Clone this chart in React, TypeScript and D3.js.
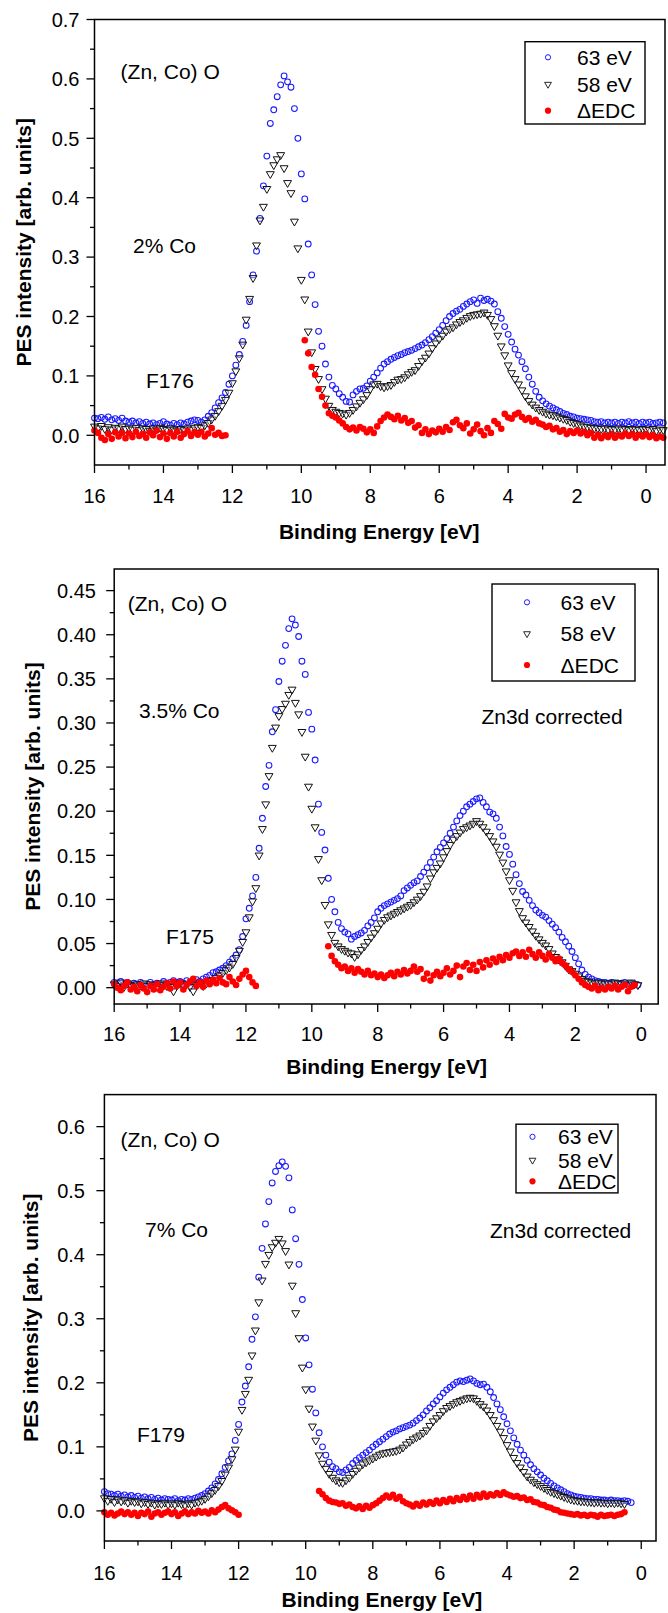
import React from "react";
import * as d3 from "d3";

// ---------------- DATA ----------------
// Energies are on a 0.1 eV grid; each series lists its first energy and values.
const STEP = 0.1;

// Panel 1 : 2% Co, F176
const P1_63_START = 16.0;
const P1_63 = [
  .029, .028, .030, .027, .031, .026, .028, .025, .029, .024,
  .022, .024, .021, .023, .020, .022, .019, .021, .018, .020,
  .023, .019, .017, .020, .018, .021, .019, .022, .024, .026,
  .025, .022, .026, .032, .038, .046, .055, .063, .072, .086,
  .100, .118, .136, .158, .185, .225, .270, .310, .365, .420,
  .470, .525, .548, .570, .590, .605, .595, .586, .550, .500,
  .440, .398, .322, .270, .220, .175, .150, .120, .098, .084,
  .078, .070, .064, .057, .056, .068, .074, .078, .079, .083,
  .091, .098, .105, .113, .120, .124, .128, .131, .134, .136,
  .139, .141, .143, .146, .149, .152, .156, .161, .166, .172,
  .178, .185, .193, .200, .205, .209, .212, .217, .221, .225,
  .228, .222, .231, .227, .229, .226, .221, .208, .197, .183,
  .170, .157, .145, .135, .124, .112, .098, .086, .074, .064,
  .058, .053, .049, .046, .043, .040, .037, .035, .032, .031,
  .029, .028, .027, .026, .025, .023, .022, .023, .021, .022,
  .021, .022, .020, .022, .021, .023, .021, .022, .020, .022,
  .021, .022, .020, .021, .022, .021,
];
const P1_58_START = 16.0;
const P1_58 = [
  .015, .012, .016, .011, .014, .010, .013, .012, .015, .011,
  .012, .010, .013, .009, .012, .011, .008, .012, .010, .013,
  .011, .009, .012, .010, .008, .011, .009, .012, .010, .013,
  .014, .013, .017, .021, .027, .033, .041, .050, .060, .072,
  .088, .108, .130, .153, .195, .230, .265, .320, .362, .385,
  .415, .440, .455, .465, .472, .450, .425, .408, .360, .315,
  .262, .229, .175, .140, .112, .095, .078, .062, .050, .043,
  .040, .038, .037, .035, .038, .043, .049, .055, .061, .068,
  .078, .086, .087, .083, .081, .083, .085, .090, .094, .095,
  .098, .103, .107, .110, .117, .125, .131, .138, .147, .155,
  .162, .168, .175, .179, .182, .187, .191, .194, .198, .201,
  .203, .204, .205, .207, .203, .196, .184, .168, .150, .135,
  .118, .105, .095, .086, .076, .066, .058, .052, .047, .043,
  .040, .037, .035, .034, .032, .030, .028, .026, .023, .021,
  .019, .017, .015, .014, .013, .012, .012, .011, .012, .010,
  .011, .010, .012, .010, .011, .009, .011, .010, .009, .011,
  .010, .009, .011, .008, .010, .009,
];
const P1_DA_START = 16.0;
const P1_DA = [
  .008, .004, -.004, -.008, .002, -.006, .005, -.002, .004, -.005,
  .003, -.003, .006, -.001, .002, -.004, .005, .000, .008, -.003,
  .003, -.006, .004, -.002, .006, -.004, .002, .007, -.001, .005,
  .001, .006, -.002, .003, .012, .001, .004, -.001, .000,
];
const P1_DB_START = 9.9;
const P1_DB = [
  .160, .138, .115, .102, .078, .065, .050, .037, .033, .030,
  .025, .020, .014, .010, .013, .008, .014, .011, .005, .010,
  .004, .015, .024, .030, .035, .031, .027, .033, .025, .029,
  .021, .024, .013, .017, .004, .010, .002, .008, .005, .011,
  .006, .014, .009, .022, .026, .017, .012, .020, .003, .010,
  .018, .007, .000, .012, .004, .024, .019, .011, .036, .030,
  .028, .035, .038, .031, .026, .029, .023, .026, .020, .018,
  .014, .016, .010, .012, .006, .009, .002, .007, .004, .008,
  .003, .006, .000, .004, -.004, .001, -.005, .000, -.003, .002,
  -.004, .000, -.002, .003, -.001, .002, -.004, .001, -.002, .002,
  -.003, .000, -.005, -.002, -.004,
];

// Panel 2 : 3.5% Co, F175
const P2_63_START = 16.0;
const P2_63 = [
  .006, .005, .007, .004, .006, .003, .005, .004, .006, .003,
  .004, .006, .003, .005, .004, .007, .005, .006, .008, .006,
  .007, .005, .008, .006, .005, .009, .007, .010, .012, .014,
  .017, .018, .020, .022, .025, .029, .033, .037, .043, .058,
  .078, .090, .104, .125, .158, .192, .228, .252, .290, .315,
  .347, .370, .388, .407, .418, .411, .398, .370, .355, .312,
  .293, .258, .208, .176, .156, .124, .100, .086, .074, .067,
  .063, .061, .055, .058, .060, .062, .065, .070, .074, .079,
  .086, .090, .093, .095, .097, .099, .101, .104, .110, .113,
  .116, .119, .121, .126, .131, .136, .142, .148, .154, .159,
  .164, .169, .175, .182, .189, .195, .200, .205, .208, .211,
  .214, .215, .210, .205, .199, .197, .192, .182, .172, .160,
  .151, .140, .128, .118, .109, .105, .099, .093, .088, .085,
  .082, .080, .076, .072, .068, .063, .057, .052, .047, .041,
  .034, .027, .020, .015, .012, .010, .008, .007, .006, .006,
  .005, .006, .005, .004, .005, .006, .004, .005, .004, .003,
];
const P2_58_START = 16.0;
const P2_58 = [
  .004, .002, .006, .001, .005, .003, .002, .004, .003, .005,
  .002, .004, .003, .001, .005, .003, .002, .001, -.004, .003,
  .005, .002, .004, .001, -.004, .003, .006, .002, .005, .008,
  .009, .011, .014, .017, .020, .023, .027, .034, .042, .052,
  .063, .080, .098, .113, .150, .180, .208, .240, .272, .295,
  .308, .316, .322, .332, .338, .323, .310, .290, .262, .228,
  .203, .182, .146, .122, .094, .072, .060, .051, .047, .044,
  .042, .040, .039, .035, .038, .043, .047, .052, .057, .062,
  .067, .073, .077, .080, .082, .084, .086, .088, .090, .092,
  .094, .097, .100, .104, .109, .115, .124, .131, .136, .141,
  .148, .155, .162, .168, .172, .176, .180, .182, .184, .186,
  .189, .186, .182, .177, .172, .166, .160, .151, .142, .132,
  .122, .110, .097, .087, .079, .074, .069, .064, .059, .055,
  .051, .048, .044, .039, .035, .032, .029, .025, .021, .019,
  .016, .013, .010, .008, .007, .006, .005, .006, .005, .004,
  .005, .004, .006, .005, .004, .005, .003, .006, .004, .003,
];
const P2_DA_START = 16.0;
const P2_DA = [
  .004, .000, -.003, .002, .006, -.002, .001, -.004, .003, -.001,
  -.005, .002, -.002, .004, -.003, .001, .005, -.001, .007, .002,
  .006, -.002, .003, .007, .010, .002, .006, .001, .008, .004,
  .009, .005, .011, .006, .004, .012, .007, .003, .010, .015,
  .019, .012, .006, .002,
];
const P2_DB_START = 9.5;
const P2_DB = [
  .047, .036, .030, .026, .022, .024, .019, .022, .017, .021,
  .018, .015, .019, .014, .016, .012, .015, .011, .014, .017,
  .013, .018, .015, .020, .016, .019, .024, .018, .021, .010,
  .016, .008, .014, .018, .013, .017, .022, .015, .019, .025,
  .012, .024, .028, .020, .026, .019, .029, .023, .031, .026,
  .033, .029, .035, .031, .037, .034, .039, .041, .036, .040,
  .035, .043, .038, .034, .040, .036, .032, .038, .034, .030,
  .033, .028, .025, .021, .018, .014, .010, .006, .003, .001,
  -.001, .002, -.003, .000, -.002, .001, -.001, .002, -.002, .001,
  .003, -.004, .001, .003,
];

// Panel 3 : 7% Co, F179
const P3_63_START = 16.0;
const P3_63 = [
  .030, .027, .026, .024, .026, .023, .025, .022, .024, .021,
  .023, .020, .022, .019, .021, .018, .020, .017, .019, .018,
  .017, .019, .016, .018, .017, .019, .018, .020, .022, .024,
  .027, .031, .036, .042, .049, .058, .068, .078, .089, .110,
  .135, .170, .195, .225, .268, .303, .365, .410, .448, .483,
  .512, .530, .539, .545, .538, .520, .470, .425, .385, .330,
  .270, .228, .190, .153, .122, .100, .087, .076, .069, .066,
  .061, .060, .064, .068, .074, .079, .083, .087, .091, .095,
  .100, .104, .108, .112, .116, .120, .123, .125, .128, .130,
  .132, .134, .137, .141, .145, .150, .156, .161, .167, .172,
  .178, .184, .189, .193, .197, .201, .203, .202, .204, .206,
  .203, .199, .197, .198, .193, .186, .177, .167, .158, .147,
  .136, .125, .114, .104, .095, .087, .079, .072, .066, .061,
  .056, .051, .047, .043, .039, .036, .033, .030, .027, .025,
  .023, .022, .021, .020, .019, .019, .018, .018, .017, .017,
  .016, .017, .016, .016, .015, .016, .015, .013,
];
const P3_58_START = 16.0;
const P3_58 = [
  .020, .016, .019, .014, .018, .015, .017, .013, .016, .014,
  .015, .012, .014, .011, .013, .010, .012, .011, .013, .010,
  .012, .010, .013, .011, .009, .012, .010, .013, .014, .016,
  .019, .023, .028, .033, .039, .047, .057, .068, .081, .096,
  .124, .158, .183, .205, .243, .282, .326, .360, .386, .400,
  .412, .419, .425, .418, .406, .385, .352, .309, .270, .224,
  .190, .160, .132, .110, .087, .074, .066, .058, .052, .048,
  .045, .044, .048, .052, .058, .063, .068, .073, .076, .079,
  .082, .085, .088, .090, .091, .092, .093, .094, .096, .099,
  .104, .108, .112, .115, .118, .122, .126, .133, .140, .145,
  .150, .156, .161, .164, .167, .170, .172, .174, .176, .177,
  .176, .172, .167, .163, .157, .150, .142, .133, .124, .114,
  .103, .093, .083, .075, .068, .061, .054, .049, .045, .042,
  .039, .036, .033, .030, .028, .026, .024, .022, .020, .018,
  .017, .016, .015, .015, .014, .014, .013, .014, .013, .013,
  .012, .013, .012, .013, .012, .011,
];
const P3_DA_START = 16.0;
const P3_DA = [
  -.002, -.006, -.003, -.007, -.004, -.001, -.005, -.002, -.006, -.003,
  -.008, -.003, -.005, -.001, -.009, -.004, -.002, -.006, -.003, -.001,
  -.005, -.002, -.008, -.004, -.001, -.005, -.002, -.004, .000, -.003,
  -.001, -.004, .001, -.002, .002, .006, .009, .004, .001, -.002,
  -.006,
];
const P3_DB_START = 9.6;
const P3_DB = [
  .031, .026, .020, .016, .014, .013, .011, .012, .008, .010,
  .006, .004, .007, .003, .008, .005, .009, .012, .016, .020,
  .024, .021, .025, .019, .022, .015, .012, .010, .007, .011,
  .008, .013, .010, .014, .011, .016, .012, .017, .014, .019,
  .015, .020, .017, .022, .018, .024, .019, .025, .021, .027,
  .022, .026, .024, .028, .025, .029, .026, .024, .022, .023,
  .020, .021, .017, .018, .014, .013, .010, .009, .006, .005,
  .002, .001, -.002, -.003, -.004, -.005, -.006, -.005, -.007, -.006,
  -.008, -.006, -.007, -.009, -.006, -.008, -.007, -.006, -.008, -.006,
  -.005, -.002,
];

// Axis ticks and labels
const X_MAJOR = [16, 14, 12, 10, 8, 6, 4, 2, 0];
const X_MINOR = [15, 13, 11, 9, 7, 5, 3, 1];
const P1_Y_MAJOR = [0.0, 0.1, 0.2, 0.3, 0.4, 0.5, 0.6, 0.7];
const P1_Y_MINOR = [0.05, 0.15, 0.25, 0.35, 0.45, 0.55, 0.65];
const P2_Y_MAJOR = [0.0, 0.05, 0.1, 0.15, 0.2, 0.25, 0.3, 0.35, 0.4, 0.45];
const P2_Y_MINOR = [0.025, 0.075, 0.125, 0.175, 0.225, 0.275, 0.325, 0.375, 0.425];
const P3_Y_MAJOR = [0.0, 0.1, 0.2, 0.3, 0.4, 0.5, 0.6];
const P3_Y_MINOR = [0.05, 0.15, 0.25, 0.35, 0.45, 0.55];

const LEGEND_LABELS = ["63 eV", "58 eV", "\u0394EDC"];
const X_TITLE = "Binding Energy [eV]";
const Y_TITLE = "PES intensity [arb. units]";

// ---------------- helpers ----------------
type Pt = { x: number; y: number };
const pts = (start: number, vals: number[]): Pt[] =>
  vals.map((v, i) => ({ x: +(start - i * STEP).toFixed(2), y: v }));

const FONT = "'Liberation Sans', Arial, sans-serif";
const BLUE = "#1a1aff";
const RED = "#ff0000";

const triPath = d3.symbol().type(d3.symbolTriangle).size(27)() as string;
const triLegend = d3.symbol().type(d3.symbolTriangle).size(20)() as string;

interface PanelCfg {
  xRange: [number, number];
  xDomain: [number, number];
  yRange: [number, number];
  yDomain: [number, number];
  yMajor: number[];
  yMinor: number[];
  yFmt: string;
  yLabelRight: number;
  xLabelY: number;
  xTitleY: number;
  yTitleX: number;
  s63: Pt[];
  s58: Pt[];
  dA: Pt[];
  dB: Pt[];
  legend: { x0: number; y0: number; x1: number; y1: number; mx: number; tx: number; rows: number[] };
  notes: { text: string; x: number; y: number }[];
}

const Panel: React.FC<{ c: PanelCfg }> = ({ c }) => {
  const x = d3.scaleLinear().domain(c.xDomain).range(c.xRange);
  const y = d3.scaleLinear().domain(c.yDomain).range(c.yRange);
  const [xl, xr] = c.xRange;
  const [yb, yt] = c.yRange;
  const fmt = d3.format(c.yFmt);
  const xTitleX = (x(16) + x(0)) / 2 + 9;
  return (
    <g>
      {/* data */}
      <g>
        {c.s63.map((p, i) => (
          <circle key={"b" + i} cx={x(p.x)} cy={y(p.y)} r={2.9} fill="none" stroke={BLUE} strokeWidth={1.05} />
        ))}
      </g>
      <g>
        {c.s58.map((p, i) => (
          <path key={"k" + i} d={triPath} transform={`translate(${x(p.x)},${y(p.y)}) rotate(180)`} fill="#fff" fillOpacity={0.35} stroke="#111" strokeWidth={1} />
        ))}
      </g>
      <g>
        {[...c.dA, ...c.dB].map((p, i) => (
          <circle key={"r" + i} cx={x(p.x)} cy={y(p.y)} r={3.3} fill={RED} />
        ))}
      </g>
      {/* frame */}
      <rect x={xl} y={yt} width={xr - xl} height={yb - yt} fill="none" stroke="#000" strokeWidth={1.5} />
      {/* y ticks */}
      {c.yMajor.map((v) => (
        <g key={"ym" + v}>
          <line x1={xl - 8} x2={xl} y1={y(v)} y2={y(v)} stroke="#000" strokeWidth={1.3} />
          <text x={c.yLabelRight} y={y(v)} dy="0.36em" textAnchor="end" fontSize={20} fontFamily={FONT}>
            {fmt(v)}
          </text>
        </g>
      ))}
      {c.yMinor.map((v) => (
        <line key={"yn" + v} x1={xl - 4.5} x2={xl} y1={y(v)} y2={y(v)} stroke="#000" strokeWidth={1.3} />
      ))}
      {/* x ticks */}
      {X_MAJOR.map((v) => (
        <g key={"xm" + v}>
          <line x1={x(v)} x2={x(v)} y1={yb} y2={yb + 8} stroke="#000" strokeWidth={1.3} />
          <text x={x(v)} y={c.xLabelY} dy="0.36em" textAnchor="middle" fontSize={20} fontFamily={FONT}>
            {v}
          </text>
        </g>
      ))}
      {X_MINOR.map((v) => (
        <line key={"xn" + v} x1={x(v)} x2={x(v)} y1={yb} y2={yb + 4.5} stroke="#000" strokeWidth={1.3} />
      ))}
      {/* titles */}
      <text x={xTitleX} y={c.xTitleY} dy="0.36em" textAnchor="middle" fontSize={21} fontWeight="bold" fontFamily={FONT}>
        {X_TITLE}
      </text>
      <text
        transform={`translate(${c.yTitleX},${(yb + yt) / 2}) rotate(-90)`}
        dy="0.36em"
        textAnchor="middle"
        fontSize={21}
        fontWeight="bold"
        fontFamily={FONT}
      >
        {Y_TITLE}
      </text>
      {/* annotations */}
      {c.notes.map((n, i) => (
        <text key={"n" + i} x={n.x} y={n.y} dy="0.36em" fontSize={21} fontFamily={FONT}>
          {n.text}
        </text>
      ))}
      {/* legend */}
      <rect
        x={c.legend.x0}
        y={c.legend.y0}
        width={c.legend.x1 - c.legend.x0}
        height={c.legend.y1 - c.legend.y0}
        fill="#fff"
        stroke="#000"
        strokeWidth={1.4}
      />
      <circle cx={c.legend.mx} cy={c.legend.rows[0]} r={2.6} fill="none" stroke={BLUE} strokeWidth={1} />
      <path d={triLegend} transform={`translate(${c.legend.mx},${c.legend.rows[1]}) rotate(180)`} fill="#fff" stroke="#111" strokeWidth={0.9} />
      <circle cx={c.legend.mx} cy={c.legend.rows[2]} r={3.1} fill={RED} />
      {LEGEND_LABELS.map((t, i) => (
        <text key={"l" + i} x={c.legend.tx} y={c.legend.rows[i]} dy="0.36em" fontSize={21} fontFamily={FONT}>
          {t}
        </text>
      ))}
    </g>
  );
};

const panels: PanelCfg[] = [
  {
    xRange: [94.5, 665],
    xDomain: [16, -0.55],
    yRange: [465, 19.5],
    yDomain: [-0.05, 0.7],
    yMajor: P1_Y_MAJOR,
    yMinor: P1_Y_MINOR,
    yFmt: ".1f",
    yLabelRight: 79.5,
    xLabelY: 495.5,
    xTitleY: 531,
    yTitleX: 23,
    s63: pts(P1_63_START, P1_63),
    s58: pts(P1_58_START, P1_58),
    dA: pts(P1_DA_START, P1_DA),
    dB: pts(P1_DB_START, P1_DB),
    legend: { x0: 525, y0: 41.7, x1: 645, y1: 124, mx: 548, tx: 577, rows: [57.3, 84.3, 110.7] },
    notes: [
      { text: "(Zn, Co) O", x: 120.6, y: 71.6 },
      { text: "2% Co", x: 133, y: 245 },
      { text: "F176", x: 146, y: 380.6 },
    ],
  },
  {
    xRange: [114.2, 658.2],
    xDomain: [16, -0.516],
    yRange: [1004, 569],
    yDomain: [-0.0185, 0.4745],
    yMajor: P2_Y_MAJOR,
    yMinor: P2_Y_MINOR,
    yFmt: ".2f",
    yLabelRight: 96,
    xLabelY: 1034.2,
    xTitleY: 1066,
    yTitleX: 32,
    s63: pts(P2_63_START, P2_63),
    s58: pts(P2_58_START, P2_58),
    dA: pts(P2_DA_START, P2_DA),
    dB: pts(P2_DB_START, P2_DB),
    legend: { x0: 492, y0: 584, x1: 635, y1: 681, mx: 527, tx: 560.6, rows: [602.3, 633.7, 665] },
    notes: [
      { text: "(Zn, Co) O", x: 127.8, y: 603 },
      { text: "3.5% Co", x: 139, y: 710.5 },
      { text: "F175", x: 166, y: 936 },
      { text: "Zn3d corrected", x: 481.4, y: 716.7 },
    ],
  },
  {
    xRange: [104.4, 656],
    xDomain: [16, -0.44],
    yRange: [1541, 1094.6],
    yDomain: [-0.047, 0.65],
    yMajor: P3_Y_MAJOR,
    yMinor: P3_Y_MINOR,
    yFmt: ".1f",
    yLabelRight: 85,
    xLabelY: 1573,
    xTitleY: 1599,
    yTitleX: 30,
    s63: pts(P3_63_START, P3_63),
    s58: pts(P3_58_START, P3_58),
    dA: pts(P3_DA_START, P3_DA),
    dB: pts(P3_DB_START, P3_DB),
    legend: { x0: 516, y0: 1124.2, x1: 618, y1: 1192.9, mx: 532.5, tx: 558, rows: [1136.8, 1160.2, 1181.3] },
    notes: [
      { text: "(Zn, Co) O", x: 120.6, y: 1139.5 },
      { text: "7% Co", x: 145, y: 1229.6 },
      { text: "F179", x: 137, y: 1434 },
      { text: "Zn3d corrected", x: 490, y: 1230.6 },
    ],
  },
];

export default function App() {
  return (
    <svg
      width={668}
      height={1613}
      viewBox="0 0 668 1613"
      style={{ position: "absolute", left: 0, top: 0, display: "block", background: "#fff" }}
    >
      <rect x={0} y={0} width={668} height={1613} fill="#fff" />
      {panels.map((c, i) => (
        <Panel key={i} c={c} />
      ))}
    </svg>
  );
}
